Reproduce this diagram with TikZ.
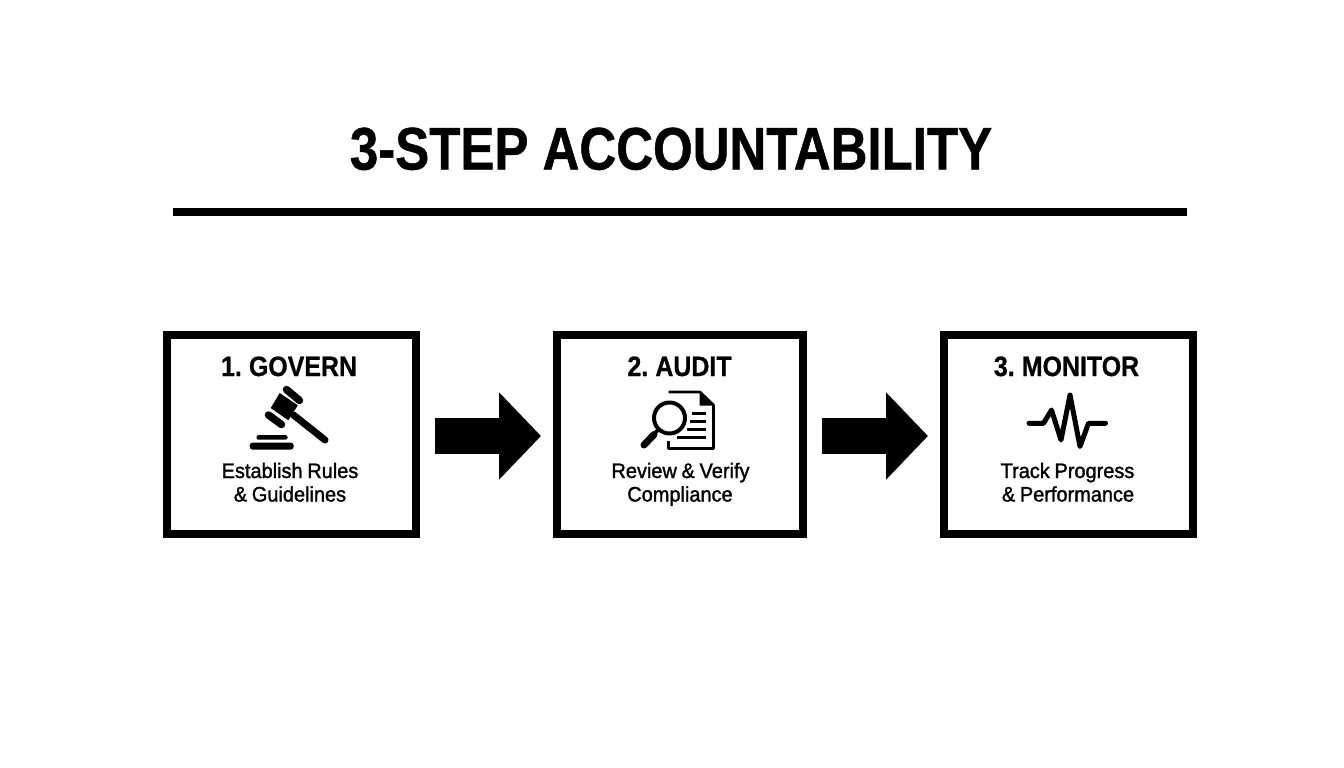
\documentclass[tikz,border=0pt]{standalone}
\usepackage{fontspec}
\usetikzlibrary{arrows.meta,calc}
\newfontfamily\headf[FakeStretch=0.85,FakeBold=0.8,WordSpace=1]{Liberation Sans}
\newfontfamily\boxf[FakeStretch=0.89,FakeBold=0.6,WordSpace=0.7]{Liberation Sans}
\newfontfamily\subf[FakeStretch=0.95,FakeBold=1.4,WordSpace=0.85]{Liberation Sans}
\tikzset{
  stepbox/.style={draw=black,line width=8pt,fill=white,minimum height=199pt},
  steptitle/.style={font=\boxf\bfseries\fontsize{28}{28}\selectfont,text=black,inner sep=0pt,anchor=base},
  stepsub/.style={font=\subf\fontsize{21}{21}\selectfont,text=black,inner sep=0pt,anchor=base},
  blockarrow/.style={line width=36pt,black,-{Triangle[length=42pt,width=85pt]},shorten <=15pt,shorten >=12pt},
  icon/.style={line cap=round,line join=round,black}
}
\begin{document}
\begin{tikzpicture}[x=1pt,y=-1pt]
\useasboundingbox (0,0) rectangle (1344,768);
\fill[white] (0,0) rectangle (1344,768);
\node[inner sep=0pt,anchor=base,font=\headf\bfseries\fontsize{60}{60}\selectfont] (title) at (671,169.5) {3-STEP ACCOUNTABILITY};
\coordinate (ruleL) at (173,212);
\coordinate (ruleR) at (1187,212);
\draw[line width=8pt] (ruleL) -- (ruleR);

\node[stepbox,minimum width=249.5pt] (b1) at (291.25,434.5) {};
\node[stepbox,minimum width=246pt] (b2) at (680,434.5) {};
\node[stepbox,minimum width=249pt] (b3) at (1068.5,434.5) {};

\draw[blockarrow] ($(b1.east)+(0,1.5)$) -- ($(b2.west)+(0,1.5)$);
\draw[blockarrow] ($(b2.east)+(0,1.5)$) -- ($(b3.west)+(0,1.5)$);

\node[steptitle] (t1) at (289,376) {1. GOVERN};
\node[stepsub] (s1a) at (290,478) {Establish Rules};
\node[stepsub] (s1b) at (290,501.5) {\& Guidelines};
\node[steptitle] (t2) at (679.5,376) {2. AUDIT};
\node[stepsub] (s2a) at (680.5,478) {Review \& Verify};
\node[stepsub] (s2b) at (680,501.5) {Compliance};
\node[steptitle] (t3) at (1066.5,376) {3. MONITOR};
\node[stepsub] (s3a) at (1067.5,478) {Track Progress};
\node[stepsub] (s3b) at (1068,501.5) {\& Performance};

% gavel
\begin{scope}[icon]
\fill (279.7,393) -- (297.8,405.3) -- (288.3,420.3) -- (270.7,408) -- cycle;
\draw[line width=7.5pt] (286.5,389.5) -- (299.5,400.5);
\draw[line width=7.5pt] (268.5,415) -- (281.5,424.5);
\draw[line width=7pt] (293.5,415) -- (325,440);
\fill[rounded corners=1.5pt] (256.5,435) rectangle (287.5,439.5);
\fill[rounded corners=3pt] (249.7,442.5) rectangle (293.7,449.7);
\end{scope}

% document and magnifier
\begin{scope}[icon]
\draw[line width=2.6pt,line cap=butt] (668.5,392) -- (700,392) -- (713.5,405) -- (713.5,448.5) -- (668.5,448.5) -- (668.5,441);
\fill (699.5,391.5) -- (714,405.5) -- (699.5,405.5) -- cycle;
\draw[line width=2.6pt,line cap=butt] (692,413.5) -- (706,413.5);
\draw[line width=2.6pt,line cap=butt] (689.5,421.5) -- (706,421.5);
\draw[line width=2.6pt,line cap=butt] (687,429.5) -- (706,429.5);
\draw[line width=2.6pt,line cap=butt] (677,437.5) -- (706,437.5);
\draw[line width=4pt,fill=white] (669.5,418) circle (15.5);
\draw[line width=3.8pt,line cap=butt] (659,429) -- (654,434);
\draw[line width=7pt] (654,434.5) -- (644,445);
\end{scope}

% pulse
\draw[icon,line width=5pt] (1029,423.3) -- (1043.5,423.3) -- (1051.5,410) -- (1061,440) -- (1070,395) -- (1080,446.5) -- (1088.5,423.3) -- (1105.5,423.3);
\end{tikzpicture}
\end{document}
